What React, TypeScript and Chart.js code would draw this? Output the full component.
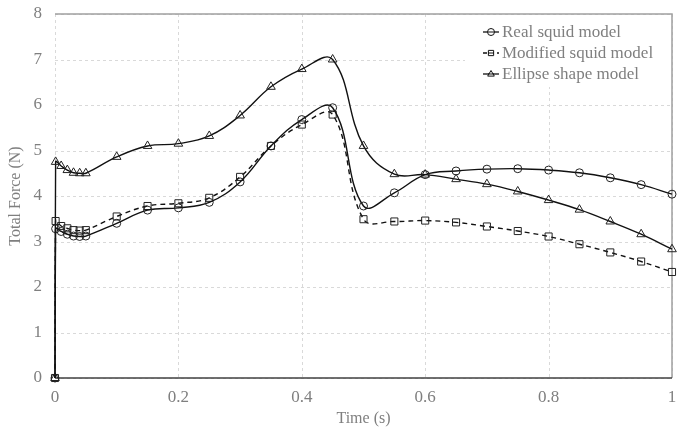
import React, { useEffect, useRef } from 'react';
import { Chart, registerables } from 'chart.js';

Chart.register(...registerables);

const TIME = [0, 0.001, 0.01, 0.02, 0.03, 0.04, 0.05, 0.1, 0.15, 0.2, 0.25, 0.3, 0.35, 0.4, 0.45, 0.5, 0.55, 0.6, 0.65, 0.7, 0.75, 0.8, 0.85, 0.9, 0.95, 1.0];
const REAL = [0, 3.28, 3.22, 3.16, 3.12, 3.11, 3.12, 3.40, 3.69, 3.74, 3.86, 4.31, 5.10, 5.68, 5.94, 3.78, 4.07, 4.47, 4.55, 4.59, 4.60, 4.57, 4.51, 4.40, 4.25, 4.04];
const MODIFIED = [0, 3.45, 3.34, 3.29, 3.25, 3.24, 3.25, 3.55, 3.78, 3.84, 3.96, 4.42, 5.10, 5.57, 5.79, 3.49, 3.44, 3.46, 3.42, 3.33, 3.23, 3.11, 2.94, 2.76, 2.56, 2.33];
const ELLIPSE = [0, 4.75, 4.66, 4.57, 4.51, 4.50, 4.50, 4.86, 5.10, 5.15, 5.32, 5.77, 6.40, 6.79, 7.00, 5.10, 4.48, 4.47, 4.37, 4.26, 4.10, 3.91, 3.70, 3.44, 3.16, 2.83];
const SERIES_NAMES = ['Real squid model', 'Modified squid model', 'Ellipse shape model'];
const X_TICKS = [0, 0.2, 0.4, 0.6, 0.8, 1];
const Y_TICKS = [0, 1, 2, 3, 4, 5, 6, 7, 8];
const X_TITLE = 'Time (s)';
const Y_TITLE = 'Total Force (N)';

const FONT = "'Liberation Serif', 'Times New Roman', serif";
const TEXT_COLOR = '#7f7f7f';

const STYLES = [
  { pointStyle: 'circle', radius: 4, dash: [] as number[] },
  { pointStyle: 'rect', radius: 5, dash: [5, 4] },
  { pointStyle: 'triangle', radius: 5, dash: [] as number[] },
];

function drawMarker(ctx: CanvasRenderingContext2D, style: string, x: number, y: number, r: number) {
  ctx.beginPath();
  if (style === 'circle') {
    ctx.arc(x, y, r, 0, Math.PI * 2);
  } else if (style === 'rect') {
    ctx.rect(x - r * 0.75, y - r * 0.75, r * 1.5, r * 1.5);
  } else {
    ctx.moveTo(x, y - r);
    ctx.lineTo(x + r * 0.95, y + r * 0.6);
    ctx.lineTo(x - r * 0.95, y + r * 0.6);
    ctx.closePath();
  }
  ctx.fillStyle = '#fff';
  ctx.fill();
  ctx.stroke();
}

const gridPlugin = {
  id: 'customGrid',
  beforeDatasetsDraw(chart: any) {
    const { ctx, chartArea, scales } = chart;
    const xs = scales.x;
    const ys = scales.y;
    ctx.save();
    ctx.lineWidth = 1;
    ctx.strokeStyle = '#d9d9d9';
    ctx.setLineDash([3, 3]);
    X_TICKS.forEach((v) => {
      const px = Math.round(xs.getPixelForValue(v)) + 0.5;
      ctx.beginPath();
      ctx.moveTo(px, chartArea.top);
      ctx.lineTo(px, chartArea.bottom);
      ctx.stroke();
    });
    Y_TICKS.forEach((v) => {
      const py = Math.round(ys.getPixelForValue(v)) + 0.5;
      ctx.beginPath();
      ctx.moveTo(chartArea.left, py);
      ctx.lineTo(chartArea.right, py);
      ctx.stroke();
    });
    ctx.setLineDash([]);
    ctx.strokeStyle = '#a0a0a0';
    ctx.lineWidth = 1.5;
    ctx.beginPath();
    ctx.moveTo(chartArea.left, chartArea.top);
    ctx.lineTo(chartArea.right, chartArea.top);
    ctx.lineTo(chartArea.right, chartArea.bottom);
    ctx.stroke();
    ctx.strokeStyle = '#404040';
    ctx.lineWidth = 1.5;
    ctx.beginPath();
    ctx.moveTo(chartArea.left, chartArea.bottom);
    ctx.lineTo(chartArea.right, chartArea.bottom);
    ctx.stroke();
    ctx.fillStyle = '#ffffff';
    ctx.fillRect(chartArea.right - 207, chartArea.top + 1, 206, 72);
    ctx.restore();
  },
  afterDraw(chart: any) {
    const { ctx, chartArea } = chart;
    ctx.save();
    const x0 = chartArea.right - 189;
    const rows = [chartArea.top + 18, chartArea.top + 39, chartArea.top + 60];
    chart.data.datasets.forEach((ds: any, i: number) => {
      const y = rows[i];
      ctx.strokeStyle = '#111';
      ctx.lineWidth = 1.3;
      ctx.setLineDash(STYLES[i].dash.length ? [4, 3] : []);
      ctx.beginPath();
      ctx.moveTo(x0, y);
      ctx.lineTo(x0 + 16, y);
      ctx.stroke();
      ctx.setLineDash([]);
      ctx.lineWidth = 1;
      drawMarker(ctx, STYLES[i].pointStyle, x0 + 8, y, 3.5);
      ctx.beginPath();
      ctx.moveTo(x0 + 5, y);
      ctx.lineTo(x0 + 11, y);
      ctx.stroke();
      ctx.fillStyle = TEXT_COLOR;
      ctx.font = `17px ${FONT}`;
      ctx.textBaseline = 'middle';
      ctx.textAlign = 'left';
      ctx.fillText(ds.label, x0 + 19, y + 1);
    });
    ctx.restore();
  },
};

export default function App() {
  const ref = useRef<HTMLCanvasElement | null>(null);
  useEffect(() => {
    if (!ref.current) return;
    const series = [REAL, MODIFIED, ELLIPSE];
    const chart = new Chart(ref.current, {
      type: 'scatter',
      data: {
        datasets: series.map((vals, i) => ({
          label: SERIES_NAMES[i],
          data: TIME.map((t, j) => ({ x: t, y: vals[j] })),
          showLine: true,
          tension: 0.4,
          clip: false,
          borderColor: '#111',
          borderWidth: 1.4,
          borderDash: STYLES[i].dash,
          pointStyle: STYLES[i].pointStyle as any,
          pointRadius: STYLES[i].radius,
          pointBorderWidth: 1,
          pointBorderColor: '#222',
          pointBackgroundColor: 'rgba(0,0,0,0)',
          fill: false,
        })),
      },
      options: {
        animation: false,
        responsive: true,
        maintainAspectRatio: false,
        layout: { padding: { top: 14, right: 20, left: 0, bottom: 0 } },
        plugins: { legend: { display: false }, tooltip: { enabled: false } },
        scales: {
          x: {
            type: 'linear',
            min: 0,
            max: 1,
            grid: { display: false, drawTicks: false },
            border: { display: false },
            afterBuildTicks: (s: any) => { s.ticks = X_TICKS.map((v) => ({ value: v })); },
            afterFit: (s: any) => { s.height = 53; s.paddingLeft = 0; s.paddingRight = 0; },
            ticks: {
              padding: 9,
              color: TEXT_COLOR,
              font: { family: FONT, size: 17 },
              callback: (v: any) => String(Math.round(Number(v) * 10) / 10),
              maxRotation: 0,
            },
            title: {
              display: true,
              text: X_TITLE,
              color: TEXT_COLOR,
              font: { family: FONT, size: 16 },
              padding: { top: 0, bottom: 3 },
            },
          },
          y: {
            type: 'linear',
            min: 0,
            max: 8,
            grid: { display: false, drawTicks: false },
            border: { display: false },
            afterBuildTicks: (s: any) => { s.ticks = Y_TICKS.map((v) => ({ value: v })); },
            afterFit: (s: any) => { s.width = 55; s.paddingTop = 0; s.paddingBottom = 0; },
            ticks: {
              padding: 13,
              color: TEXT_COLOR,
              font: { family: FONT, size: 17 },
              callback: (v: any) => String(v),
            },
            title: {
              display: true,
              text: Y_TITLE,
              color: TEXT_COLOR,
              font: { family: FONT, size: 16 },
              padding: { top: 6, bottom: 0 },
            },
          },
        },
      },
      plugins: [gridPlugin],
    });
    return () => chart.destroy();
  }, []);
  return (
    <div style={{ position: 'fixed', left: 0, top: 0, width: 692, height: 431, background: '#fff' }}>
      <canvas ref={ref} />
    </div>
  );
}
